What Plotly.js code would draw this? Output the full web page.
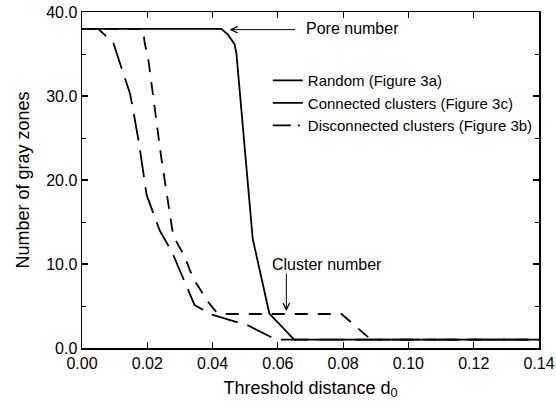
<!DOCTYPE html>
<html>
<head>
<meta charset="utf-8">
<script src="https://cdn.plot.ly/plotly-3.0.1.min.js"></script>
<style>html,body{margin:0;padding:0;background:#fff;}#chart{width:556px;height:410px;}</style>
</head>
<body>
<div id="chart"></div>
<script>
// Random (Figure 3a) - solid
const randomX = [0, 0.0427, 0.0447, 0.0467, 0.0473, 0.0523, 0.0574, 0.065, 0.14];
const randomY = [38, 38, 37.3, 36.2, 35.1, 13.0, 4.1, 1.0, 1.0];
// Connected clusters (Figure 3c) - short dash
const connectedX = [0, 0.0187, 0.0192, 0.0202, 0.0223, 0.0243, 0.0267, 0.0279, 0.0294, 0.0315, 0.033, 0.035, 0.0386, 0.0411, 0.043, 0.0795, 0.0885, 0.14];
const connectedY = [38, 38, 36.3, 34.7, 28.5, 22.6, 16.5, 13.5, 12.3, 10.9, 9.3, 7.7, 5.5, 4.3, 4.05, 4.05, 1.0, 1.0];
// Disconnected clusters (Figure 3b) - long dash
const disconnectedX = [0, 0.005, 0.0096, 0.0124, 0.0147, 0.0155, 0.0175, 0.0198, 0.0226, 0.0238, 0.0277, 0.034, 0.0345, 0.0396, 0.0508, 0.0594, 0.14];
const disconnectedY = [38, 38, 36.3, 33.1, 30.3, 28.7, 24.3, 18.2, 15.4, 14.0, 11.3, 5.7, 5.1, 4.0, 2.7, 1.0, 1.0];

const seriesNames = ['Random (Figure 3a)', 'Connected clusters (Figure 3c)', 'Disconnected clusters (Figure 3b)'];
const xTicks = [0, 0.02, 0.04, 0.06, 0.08, 0.10, 0.12, 0.14];
const yTicks = [0, 10, 20, 30, 40];

const font = 'Liberation Sans, Arial, Helvetica, sans-serif';
const lw = 1.8;

const traces = [
  {x: disconnectedX, y: disconnectedY, mode: 'lines', showlegend: false, line: {color: '#000', width: lw, dash: '27px,10px'}},
  {x: connectedX, y: connectedY, mode: 'lines', showlegend: false, line: {color: '#000', width: lw, dash: '13px,10px'}},
  {x: randomX, y: randomY, mode: 'lines', showlegend: false, line: {color: '#000', width: lw}},
  {x: [null], y: [null], mode: 'lines', name: seriesNames[0], line: {color: '#000', width: lw}},
  {x: [null], y: [null], mode: 'lines', name: seriesNames[1], line: {color: '#000', width: lw}},
  {x: [null], y: [null], mode: 'lines', name: seriesNames[2], line: {color: '#000', width: lw, dash: '18px,7px,2px'}}
];

const layout = {
  width: 556, height: 410,
  margin: {l: 82, r: 17, t: 12, b: 62},
  paper_bgcolor: '#fff', plot_bgcolor: '#fff',
  font: {family: font, color: '#000', size: 15},
  showlegend: true,
  legend: {x: 0.4066, y: 0.845, xanchor: 'left', yanchor: 'top', bgcolor: 'rgba(0,0,0,0)', font: {family: font, size: 15, color: '#000'}, tracegroupgap: 0, itemwidth: 30, traceorder: 'normal'},
  xaxis: {
    range: [0, 0.14], tickvals: xTicks, tickformat: '.2f',
    ticks: 'inside', ticklen: 6, tickwidth: 1.2, tickcolor: '#000',
    showline: true, linecolor: '#000', linewidth: 1.5, mirror: 'allticks',
    showgrid: false, zeroline: false,
    tickfont: {family: font, size: 16, color: '#000'},
    title: {text: 'Threshold distance d<sub>0</sub>', font: {family: font, size: 18, color: '#000'}, standoff: 10}
  },
  yaxis: {
    range: [0, 40], tickvals: yTicks, tickformat: '.1f',
    ticks: 'inside', ticklen: 6, tickwidth: 1.2, tickcolor: '#000',
    minor: {dtick: 5, ticks: 'inside', ticklen: 4, tickcolor: '#000', tickwidth: 1, showgrid: false},
    showline: true, linecolor: '#000', linewidth: 1.5, mirror: 'allticks',
    showgrid: false, zeroline: false,
    tickfont: {family: font, size: 16, color: '#000'},
    title: {text: 'Number of gray zones', font: {family: font, size: 18, color: '#000'}, standoff: 12}
  },
  annotations: [
    {x: 0.0452, y: 37.9, xref: 'x', yref: 'y', text: '', showarrow: true, arrowhead: 5, arrowsize: 1.3, arrowwidth: 1, arrowcolor: '#000', ax: 67, ay: 0},
    {x: 0.0679, y: 38.0, xref: 'x', yref: 'y', text: 'Pore number', showarrow: false, xanchor: 'left', yanchor: 'middle', font: {family: font, size: 16, color: '#000'}},
    {x: 0.0626, y: 4.4, xref: 'x', yref: 'y', text: '', showarrow: true, arrowhead: 5, arrowsize: 1.3, arrowwidth: 1, arrowcolor: '#000', ax: 0, ay: -39},
    {x: 0.0575, y: 10.0, xref: 'x', yref: 'y', text: 'Cluster number', showarrow: false, xanchor: 'left', yanchor: 'middle', font: {family: font, size: 16, color: '#000'}}
  ]
};

Plotly.newPlot('chart', traces, layout, {staticPlot: true, displayModeBar: false});
</script>
</body>
</html>
